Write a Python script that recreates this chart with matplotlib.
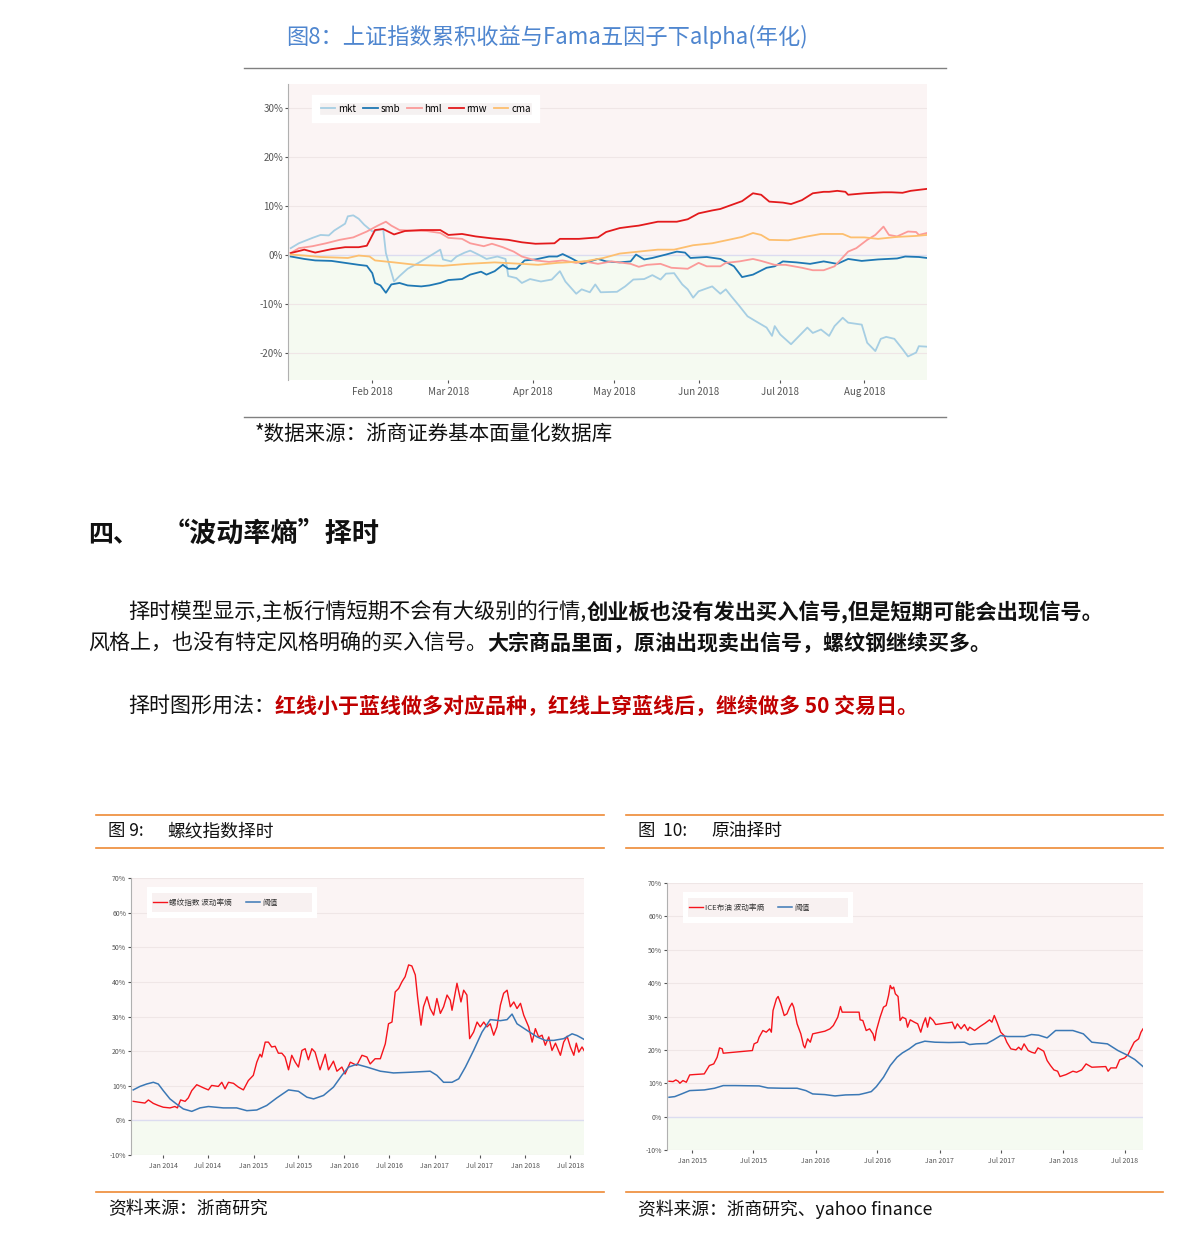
import pandas as pd
import matplotlib
matplotlib.use('Agg')
import matplotlib.pyplot as plt
import matplotlib.dates as mdates
from matplotlib.patches import Rectangle
from matplotlib.ticker import FuncFormatter

plt.rcParams['font.family'] = ['Noto Sans CJK SC', 'DejaVu Sans']

W, H = 1191, 1240

# ---------- 图8: 因子累积收益 (days since 2018-01-01, %) ----------
mkt_day = [1, 4, 9, 12, 15, 17, 21, 22, 24, 26, 28, 31, 33, 35, 36, 39, 41, 44, 48, 51,
           56, 57, 60, 62, 65, 67, 70, 73, 77, 80, 81, 84, 86, 89, 93, 97, 100, 102, 106, 108,
           111, 113, 115, 121, 124, 127, 131, 134, 137, 139, 142, 145, 147, 149, 151, 156, 159, 161, 163, 166,
           169, 172, 176, 178, 179, 181, 185, 188, 191, 193, 196, 199, 201, 204, 206, 211, 213, 216, 218, 220,
           223, 226, 228, 231, 232, 235]
mkt_val = [1.4, 2.4, 3.5, 4.1, 4.0, 5.0, 6.4, 7.9, 8.1, 7.4, 6.2, 4.8, 5.1, 5.3, 0.4, -5.4, -4.3, -2.8, -1.6, -0.6,
           1.1, -0.9, -1.3, -0.3, 0.5, 0.9, 0.1, -0.8, -0.3, -0.8, -4.3, -4.7, -5.7, -4.9, -5.4, -5.0, -3.3, -5.4, -7.9, -7.0,
           -7.6, -6.0, -7.6, -7.5, -6.4, -5.0, -4.9, -4.1, -5.0, -3.8, -3.7, -6.0, -7.0, -8.7, -7.4, -6.4, -7.9, -7.0, -8.4, -10.4,
           -12.5, -13.5, -14.8, -16.5, -14.5, -16.2, -18.2, -16.5, -14.8, -15.9, -15.2, -16.5, -14.5, -12.8, -13.8, -14.2, -17.9, -19.6, -17.1, -16.7,
           -17.1, -19.2, -20.7, -19.9, -18.6, -18.7]

smb_day = [1, 6, 10, 16, 21, 26, 29, 31, 32, 34, 36, 38, 41, 44, 49, 52, 56, 59, 64, 67,
           71, 73, 76, 79, 81, 84, 87, 91, 96, 99, 101, 104, 108, 114, 117, 122, 126, 128, 131, 134,
           139, 143, 146, 148, 154, 159, 164, 167, 171, 176, 179, 182, 187, 192, 197, 202, 206, 211, 217, 224,
           227, 232, 235]
smb_val = [-0.3, -0.8, -1.1, -1.2, -1.6, -2.0, -2.2, -3.7, -5.7, -6.2, -7.7, -6.0, -5.7, -6.2, -6.4, -6.2, -5.7, -5.1, -4.9, -4.0,
           -3.4, -4.0, -3.3, -2.0, -2.8, -2.8, -1.1, -0.9, -0.3, -0.3, 0.2, -0.6, -1.8, -0.8, -1.3, -1.5, -1.3, 0.1, -0.9, -0.6,
           0.1, 0.7, 0.5, -0.6, -0.4, -0.8, -2.3, -4.5, -4.0, -2.6, -2.3, -1.3, -1.5, -1.8, -1.3, -1.8, -0.8, -1.2, -0.9, -0.7,
           -0.3, -0.4, -0.6]

hml_day = [1, 4, 9, 14, 19, 24, 29, 33, 36, 38, 41, 45, 51, 56, 59, 64, 67, 72, 75, 79,
           83, 86, 91, 96, 101, 106, 109, 114, 119, 126, 129, 132, 137, 141, 147, 151, 154, 159, 161, 166,
           171, 174, 179, 183, 189, 193, 197, 201, 206, 209, 213, 216, 219, 221, 224, 228, 231, 232, 235]
hml_val = [0.4, 1.4, 1.8, 2.4, 3.1, 3.6, 4.8, 6.0, 6.8, 6.0, 5.1, 5.0, 4.9, 4.5, 3.5, 3.3, 2.4, 1.8, 2.3, 1.6,
           0.7, -0.3, -1.1, -1.4, -1.1, -1.6, -1.3, -1.8, -1.3, -1.8, -2.4, -2.0, -1.8, -2.6, -2.8, -1.6, -2.3, -2.3, -1.6, -1.3,
           -0.8, -1.2, -2.0, -2.0, -2.6, -3.1, -3.1, -2.3, 0.7, 1.4, 3.1, 4.1, 5.8, 4.1, 3.8, 4.8, 4.7, 4.1, 4.5]

rmw_day = [1, 6, 10, 16, 21, 26, 29, 32, 35, 39, 43, 49, 56, 59, 64, 69, 75, 81, 86, 91,
           98, 100, 107, 114, 117, 122, 126, 129, 136, 143, 147, 151, 156, 159, 163, 167, 171, 174, 177, 182,
           185, 189, 193, 197, 199, 202, 205, 206, 212, 219, 222, 226, 229, 235]
rmw_val = [0.4, 1.1, 0.5, 1.2, 1.6, 1.6, 1.9, 5.1, 5.3, 4.2, 4.9, 5.1, 5.1, 4.1, 4.3, 3.8, 3.4, 3.1, 2.6, 2.3,
           2.4, 3.3, 3.3, 3.6, 4.7, 5.5, 5.8, 6.0, 6.8, 6.8, 7.3, 8.5, 9.1, 9.4, 10.2, 11.0, 12.6, 12.3, 10.9, 10.7,
           10.4, 11.2, 12.6, 12.9, 12.9, 13.1, 12.9, 12.3, 12.6, 12.8, 12.8, 12.7, 13.1, 13.5]

cma_day = [1, 6, 12, 22, 26, 30, 32, 39, 47, 57, 66, 76, 86, 92, 99, 109, 116, 122, 129, 136,
           142, 149, 156, 162, 167, 171, 174, 177, 184, 191, 196, 204, 207, 212, 217, 224, 231, 235]
cma_val = [0.1, -0.1, -0.4, -0.6, -0.1, -0.3, -1.1, -1.5, -2.0, -2.2, -1.8, -1.5, -1.8, -2.0, -1.6, -1.3, -0.6, 0.3, 0.7, 1.1,
           1.1, 2.0, 2.4, 3.1, 3.7, 4.5, 4.1, 3.1, 3.0, 3.8, 4.3, 4.3, 3.6, 3.6, 3.3, 3.7, 3.9, 4.1]

factor_names = ['mkt', 'smb', 'hml', 'rmw', 'cma']
factor_colors = ['#a6cee3', '#1f78b4', '#fb9a99', '#e31a1c', '#fdbf6f']

# ---------- 图9: 螺纹指数 (days since 2014-01-01, %) ----------
rb_day = [-120, -93, -73, -59, -39, -19, 1, 28, 48, 58, 71, 89, 102, 116, 136, 163, 183, 196, 223, 237,
          250, 264, 284, 304, 324, 344, 364, 378, 391, 398, 412, 425, 438, 452, 465, 479, 492, 506, 519, 533,
          546, 560, 573, 586, 600, 613, 633, 654, 667, 687, 701, 721, 734, 755, 781, 802, 822, 835, 855, 876,
          896, 909, 923, 936, 950, 963, 976, 990, 1003, 1017, 1026, 1040, 1050, 1064, 1077, 1091, 1104, 1118, 1131, 1145,
          1158, 1165, 1185, 1201, 1212, 1225, 1236, 1252, 1266, 1279, 1293, 1306, 1319, 1333, 1346, 1360, 1373, 1387, 1400, 1414,
          1427, 1441, 1454, 1474, 1488, 1501, 1514, 1528, 1541, 1555, 1568, 1582, 1602, 1615, 1629, 1642, 1656, 1666, 1676, 1689,
          1697]
rb_vol = [5.5, 5.2, 5.0, 5.9, 4.9, 4.3, 3.8, 3.6, 4.0, 3.6, 5.9, 5.5, 6.5, 8.6, 10.3, 9.4, 8.8, 10.1, 9.8, 11.0,
          9.1, 11.0, 10.7, 9.6, 8.8, 11.5, 13.0, 16.8, 19.1, 18.3, 22.6, 22.6, 21.2, 21.4, 19.4, 19.4, 18.3, 14.6, 18.8, 16.8,
          15.4, 20.2, 20.7, 17.5, 20.7, 19.7, 14.6, 19.1, 14.6, 17.1, 14.2, 15.4, 13.4, 16.8, 15.9, 18.8, 18.3, 16.3, 17.8, 17.8,
          22.1, 27.9, 28.4, 37.1, 38.1, 40.0, 41.5, 44.9, 44.6, 42.0, 35.7, 27.5, 32.8, 35.7, 32.3, 30.4, 35.2, 30.9, 32.8, 36.2,
          34.7, 31.8, 39.6, 34.2, 37.6, 36.2, 23.6, 25.5, 28.4, 27.0, 28.4, 27.0, 27.9, 24.6, 27.0, 33.3, 36.7, 37.6, 32.8, 34.2,
          32.3, 33.8, 30.4, 27.0, 22.6, 26.5, 24.1, 24.6, 21.7, 24.1, 20.2, 22.3, 18.8, 22.6, 24.3, 21.2, 18.8, 22.3, 19.7, 21.2,
          20.2]
rb_thr_day = [-120, -93, -66, -39, -19, 1, 28, 55, 82, 116, 149, 183, 243, 297, 338, 378, 418, 459, 506, 546,
              580, 607, 647, 687, 721, 748, 781, 822, 876, 929, 997, 1077, 1104, 1131, 1165, 1192, 1219, 1252, 1286, 1319,
              1360, 1387, 1407, 1427, 1467, 1508, 1541, 1575, 1615, 1649, 1669, 1697]
rb_thr = [8.8, 9.8, 10.5, 11.0, 10.5, 8.6, 6.2, 4.7, 3.3, 2.6, 3.6, 4.0, 3.6, 3.6, 2.8, 3.0, 4.3, 6.5, 8.8, 8.4,
          6.7, 6.2, 7.2, 9.6, 13.0, 15.4, 16.2, 15.4, 14.2, 13.7, 13.9, 14.2, 13.0, 11.0, 11.0, 12.0, 15.4, 20.2, 25.5, 29.1,
          28.8, 29.1, 30.7, 27.9, 26.0, 24.1, 23.1, 23.1, 23.6, 25.0, 24.5, 23.4]

# ---------- 图10: ICE布油 (days since 2015-01-01, %) ----------
oil_day = [-68, -56, -48, -41, -36, -27, -17, -7, 5, 36, 51, 64, 74, 81, 89, 92, 178, 183, 193, 198,
           209, 219, 229, 234, 239, 249, 254, 262, 272, 280, 288, 295, 300, 310, 321, 329, 333, 341, 349, 356,
           392, 407, 417, 430, 438, 443, 493, 496, 504, 514, 524, 534, 539, 544, 555, 565, 573, 580, 585, 590,
           595, 600, 608, 614, 621, 631, 636, 644, 656, 666, 675, 682, 689, 695, 702, 712, 719, 768, 776, 783,
           794, 804, 814, 819, 834, 850, 865, 878, 885, 892, 900, 911, 921, 929, 941, 956, 964, 972, 980, 992,
           1002, 1012, 1021, 1038, 1048, 1058, 1068, 1079, 1086, 1104, 1124, 1135, 1150, 1163, 1180, 1221, 1228, 1236, 1252, 1262,
           1277, 1287, 1295, 1305, 1318, 1325, 1331]
oil_vol = [10.6, 10.5, 11.0, 10.6, 10.0, 10.8, 10.3, 12.5, 12.6, 12.8, 15.3, 15.8, 17.8, 20.6, 20.3, 19.0, 19.8, 21.8, 22.3, 23.8,
           25.8, 25.3, 26.3, 25.3, 31.8, 35.3, 36.0, 33.8, 30.3, 30.8, 32.8, 34.0, 32.8, 27.8, 24.8, 21.3, 20.6, 23.3, 22.3, 24.8,
           25.6, 26.3, 27.3, 29.8, 33.0, 31.3, 31.3, 29.0, 28.8, 25.8, 26.3, 24.8, 22.8, 25.8, 29.8, 32.8, 33.3, 36.3, 39.3, 38.3,
           38.8, 36.8, 36.0, 28.8, 29.8, 29.3, 26.8, 29.0, 28.3, 27.8, 25.3, 27.8, 29.6, 26.8, 29.8, 28.8, 27.6, 28.3, 26.3, 27.8,
           26.3, 27.6, 25.8, 26.8, 25.8, 27.0, 28.0, 29.0, 28.3, 30.3, 28.3, 25.3, 24.3, 22.3, 20.3, 20.0, 20.8, 20.0, 21.8, 19.8,
           19.3, 19.0, 20.6, 19.6, 16.8, 15.3, 14.0, 13.6, 12.0, 12.6, 13.6, 13.3, 14.0, 15.8, 14.8, 15.0, 13.6, 14.6, 14.6, 17.0,
           17.6, 18.6, 20.3, 22.3, 23.3, 25.3, 26.3]
oil_thr_day = [-68, -51, -31, -7, 36, 66, 92, 127, 198, 224, 270, 310, 336, 356, 392, 422, 453, 493, 514, 529,
               544, 565, 585, 605, 621, 641, 661, 687, 717, 758, 804, 819, 839, 870, 890, 911, 931, 982, 1002, 1023,
               1048, 1073, 1124, 1155, 1180, 1226, 1257, 1287, 1307, 1331]
oil_thr = [5.8, 6.0, 6.8, 7.8, 8.0, 8.5, 9.3, 9.3, 9.2, 8.6, 8.5, 8.5, 7.8, 6.8, 6.6, 6.2, 6.5, 6.6, 7.1, 7.5,
           9.0, 11.8, 15.3, 17.8, 19.1, 20.3, 21.8, 22.6, 22.3, 22.2, 22.3, 21.6, 21.8, 21.9, 23.0, 24.3, 24.0, 24.0, 24.6, 24.4,
           23.6, 25.8, 25.8, 24.8, 22.3, 21.8, 19.8, 18.3, 17.1, 15.0]

PINK = '#fbf4f4'
GREEN = '#f5faf1'
GRID = '#efe6e6'
ZERO = '#dcdcf0'
VOL_RED = '#f5141c'
THR_BLUE = '#3b78b5'
ORANGE = '#ee8a35'


def to_dates(base, days):
    return pd.Timestamp(base) + pd.to_timedelta(days, unit='D')


def fx(x):
    return x / W


def fy(y):
    return 1 - y / H


def panel(l, t, r, b, ymin, ymax, tick_size):
    ax = fig.add_axes([fx(l), fy(b), (r - l) / W, (b - t) / H])
    ax.axhspan(0, ymax, color=PINK, zorder=0, lw=0)
    ax.axhspan(ymin, 0, color=GREEN, zorder=0, lw=0)
    lo = int(ymin // 10) * 10
    for v in range(lo, int(ymax) + 1, 10):
        if v != 0:
            ax.axhline(v, color=GRID, lw=0.8, zorder=1)
    ax.axhline(0, color=ZERO, lw=1.0, zorder=1)
    ax.set_ylim(ymin, ymax)
    ax.set_yticks(range(lo + 10 if lo < ymin else lo, int(ymax) + 1, 10))
    ax.yaxis.set_major_formatter(FuncFormatter(lambda v, p: '%d%%' % v))
    for s in ['top', 'right', 'bottom']:
        ax.spines[s].set_visible(False)
    ax.spines['left'].set_color('#b0b0b0')
    ax.spines['left'].set_linewidth(0.8)
    ax.tick_params(axis='both', labelsize=tick_size, colors='#555555', length=2, width=0.8, pad=1.5)
    ax.tick_params(axis='x', pad=3)
    return ax


def runs(x, y, parts, size):
    r = fig.canvas.get_renderer()
    for s, bold, color in parts:
        t = fig.text(fx(x), fy(y), s, fontsize=size, color=color, va='center',
                     fontweight='bold' if bold else 'normal')
        x += t.get_window_extent(renderer=r).width


def box(ax, l, t, r, b, color):
    ax.add_patch(Rectangle((fx(l), fy(b)), (r - l) / W, (b - t) / H, transform=fig.transFigure,
                           facecolor=color, edgecolor='none', zorder=5, clip_on=False))


fig = plt.figure(figsize=(W / 100, H / 100), dpi=100)

# ---------- top chart ----------
fig.text(fx(547), fy(37), '图8：上证指数累积收益与Fama五因子下alpha(年化)', fontsize=16,
         color='#4f86cf', ha='center', va='center')
fig.add_artist(plt.Line2D([fx(244), fx(946)], [fy(68), fy(68)], color='#808080', lw=1.0))
fig.add_artist(plt.Line2D([fx(244), fx(946)], [fy(417), fy(417)], color='#808080', lw=1.0))
fig.text(fx(255), fy(434), '*数据来源：浙商证券基本面量化数据库', fontsize=14.8, color='#111111', va='center')

ax1 = panel(288, 84, 927, 380, -25.5, 34.9, 7)
factor_days = [mkt_day, smb_day, hml_day, rmw_day, cma_day]
factor_vals = [mkt_val, smb_val, hml_val, rmw_val, cma_val]
for name, c, d, v in zip(factor_names, factor_colors, factor_days, factor_vals):
    ax1.plot(to_dates('2018-01-01', d), v, color=c, lw=1.3, label=name, zorder=3)
ax1.set_xlim(pd.Timestamp('2018-01-01'), pd.Timestamp('2018-08-24'))
ax1.xaxis.set_major_locator(mdates.MonthLocator(bymonth=range(2, 9)))
ax1.xaxis.set_major_formatter(mdates.DateFormatter('%b %Y'))
leg = ax1.legend(loc='upper left', bbox_to_anchor=(fx(316), fy(99)), bbox_transform=fig.transFigure,
                 ncol=5, fontsize=7, frameon=True, fancybox=False, handlelength=1.5, handletextpad=0.3,
                 columnspacing=0.7, borderpad=0.5, borderaxespad=0)
leg.get_frame().set_facecolor('#f5f1f1')
leg.get_frame().set_edgecolor('white')
leg.get_frame().set_linewidth(6)
leg.get_frame().set_alpha(1)

# ---------- section text ----------
fig.text(fx(88), fy(534), '四、', fontsize=18, fontweight='bold', color='#111111', va='center')
fig.text(fx(163), fy(534), '“波动率熵”择时', fontsize=19.5, fontweight='bold', color='#111111', va='center')

runs(128, 612, [('择时模型显示,主板行情短期不会有大级别的行情,', False, '#111111'),
                ('创业板也没有发出买入信号,但是短期可能会出现信号。', True, '#111111')], 15.3)
runs(88, 643, [('风格上，也没有特定风格明确的买入信号。', False, '#111111'),
               ('大宗商品里面，原油出现卖出信号，螺纹钢继续买多。', True, '#111111')], 15.1)
runs(128, 706, [('择时图形用法：', False, '#111111'),
                ('红线小于蓝线做多对应品种，红线上穿蓝线后，继续做多 50 交易日。', True, '#c00000')], 15.1)

# ---------- figure headers / footers ----------
for x0, x1 in [(96, 604), (626, 1163)]:
    for yy in [815, 848, 1192]:
        fig.add_artist(plt.Line2D([fx(x0), fx(x1)], [fy(yy), fy(yy)], color=ORANGE, lw=1.2))

fig.text(fx(108), fy(831), '图 9:', fontsize=12.5, color='#111111', va='center')
fig.text(fx(167), fy(831), '螺纹指数择时', fontsize=12.8, color='#111111', va='center')
fig.text(fx(638), fy(831), '图  10:', fontsize=12.5, color='#111111', va='center')
fig.text(fx(711), fy(831), '原油择时', fontsize=12.8, color='#111111', va='center')
fig.text(fx(108), fy(1209), '资料来源：浙商研究', fontsize=12.8, color='#111111', va='center')
fig.text(fx(638), fy(1209), '资料来源：浙商研究、yahoo finance', fontsize=12.8, color='#111111', va='center')


def vol_panel(l, t, r, b, base, vd, vv, td, tv, start, end, tick_from, label):
    ax = panel(l, t, r, b, -10, 70, 5)
    ax.plot(to_dates(base, vd), vv, color=VOL_RED, lw=1.0, label=label, zorder=3)
    ax.plot(to_dates(base, td), tv, color=THR_BLUE, lw=1.1, label='阈值', zorder=3)
    ax.set_xlim(pd.Timestamp(start), pd.Timestamp(end))
    ax.set_xticks(pd.date_range(tick_from, '2018-07-01', freq='6MS'))
    ax.xaxis.set_major_formatter(mdates.DateFormatter('%b %Y'))
    # legend: white outer box, tinted inner box
    bl, bt = l + 16, t + 9
    box(ax, bl, bt, bl + 170, bt + 31, 'white')
    box(ax, bl + 5, bt + 6, bl + 165, bt + 25, '#f8f1f1')
    lg = ax.legend(loc='center left', bbox_to_anchor=(fx(bl + 4), fy(bt + 16)), bbox_transform=fig.transFigure,
                   ncol=2, fontsize=5.5, frameon=False, handlelength=1.8, handletextpad=0.3,
                   columnspacing=1.8, borderpad=0.3, borderaxespad=0)
    lg.set_zorder(6)
    for txt in lg.get_texts():
        txt.set_color('#333333')
    return ax


vol_panel(131, 878, 584, 1155, '2014-01-01', rb_day, rb_vol, rb_thr_day, rb_thr,
          '2013-08-25', '2018-08-25', '2014-01-01', '螺纹指数 波动率熵')
vol_panel(667, 883, 1143, 1150, '2015-01-01', oil_day, oil_vol, oil_thr_day, oil_thr,
          '2014-10-19', '2018-08-24', '2015-01-01', 'ICE布油 波动率熵')

fig.savefig('out.png', dpi=100, facecolor='white')
